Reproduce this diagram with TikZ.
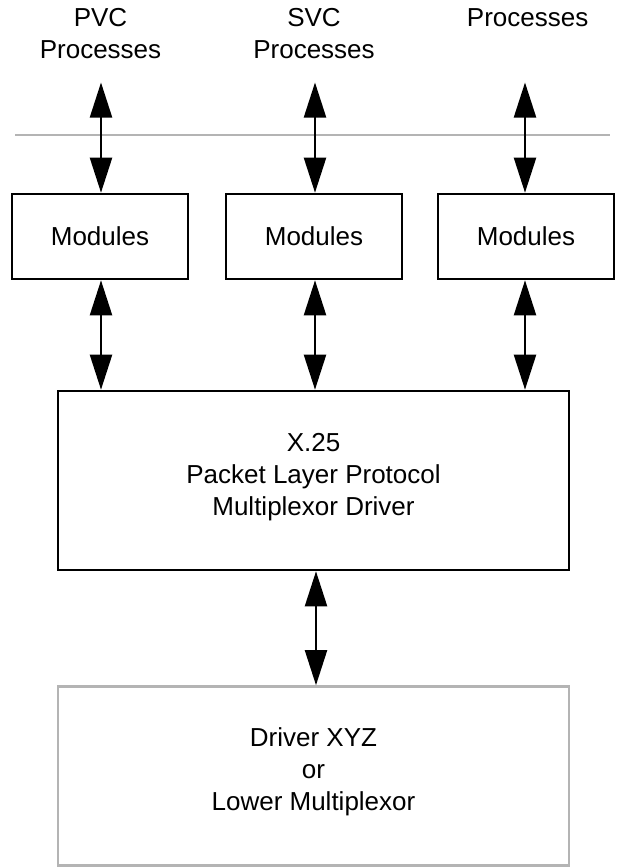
\documentclass[tikz,border=0pt]{standalone}
\usepackage{fontspec}
\setmainfont{Liberation Sans}
\usetikzlibrary{arrows.meta}
\definecolor{rulegray}{RGB}{180,180,180}
\begin{document}
\begin{tikzpicture}[x=1pt,y=-1pt,
  every node/.style={font=\fontsize{26}{32}\selectfont, inner sep=0pt, align=center},
  modbox/.style={draw, line width=2.6pt, minimum width=176pt, minimum height=85pt},
  bigbox/.style={draw, line width=2.6pt, minimum width=511pt, minimum height=179pt},
  lowbox/.style={draw=rulegray, line width=2.6pt, minimum width=511pt, minimum height=179pt},
  link/.style={line width=2.2pt, >={Triangle[length=35pt,width=22pt]}, <->}
]
\useasboundingbox (0,0) rectangle (616,867);

% process labels
\node[anchor=north] (pvc) at (100.5,8.5) {PVC\\Processes};
\node[anchor=north] (svc) at (314,8.5) {SVC\\Processes};
\node[anchor=north] (proc) at (527.6,8.5) {Processes};

% user/kernel boundary
\draw[rulegray, line width=2.6pt] (15,135) -- (610,135);

% module boxes
\node[modbox] (m1) at (100,236.5) {Modules};
\node[modbox] (m2) at (314,236.5) {Modules};
\node[modbox] (m3) at (526,236.5) {Modules};

% multiplexor driver and the driver below it
\node[bigbox] (plp) at (313.5,480.5) {};
\node (plptext) at ([yshift=3.7pt]plp.center) {X.25\\Packet Layer Protocol\\Multiplexor Driver};
\node[lowbox] (drv) at (313.5,776) {};
\node (drvtext) at ([yshift=4.2pt]drv.center) {Driver XYZ\\or\\Lower Multiplexor};

% free ends of the upper arrows
\coordinate (t1) at (101,82.5);
\coordinate (t2) at (315,82.5);
\coordinate (t3) at (525,82.5);

% arrows
\draw[link] (t1) -- (t1 |- m1.north);
\draw[link] (t2) -- (t2 |- m2.north);
\draw[link] (t3) -- (t3 |- m3.north);
\draw[link] (t1 |- m1.south) -- (t1 |- plp.north);
\draw[link] (t2 |- m2.south) -- (t2 |- plp.north);
\draw[link] (t3 |- m3.south) -- (t3 |- plp.north);
\draw[link] ([xshift=2.5pt]plp.south) -- ([xshift=2.5pt]drv.north);
\end{tikzpicture}
\end{document}
